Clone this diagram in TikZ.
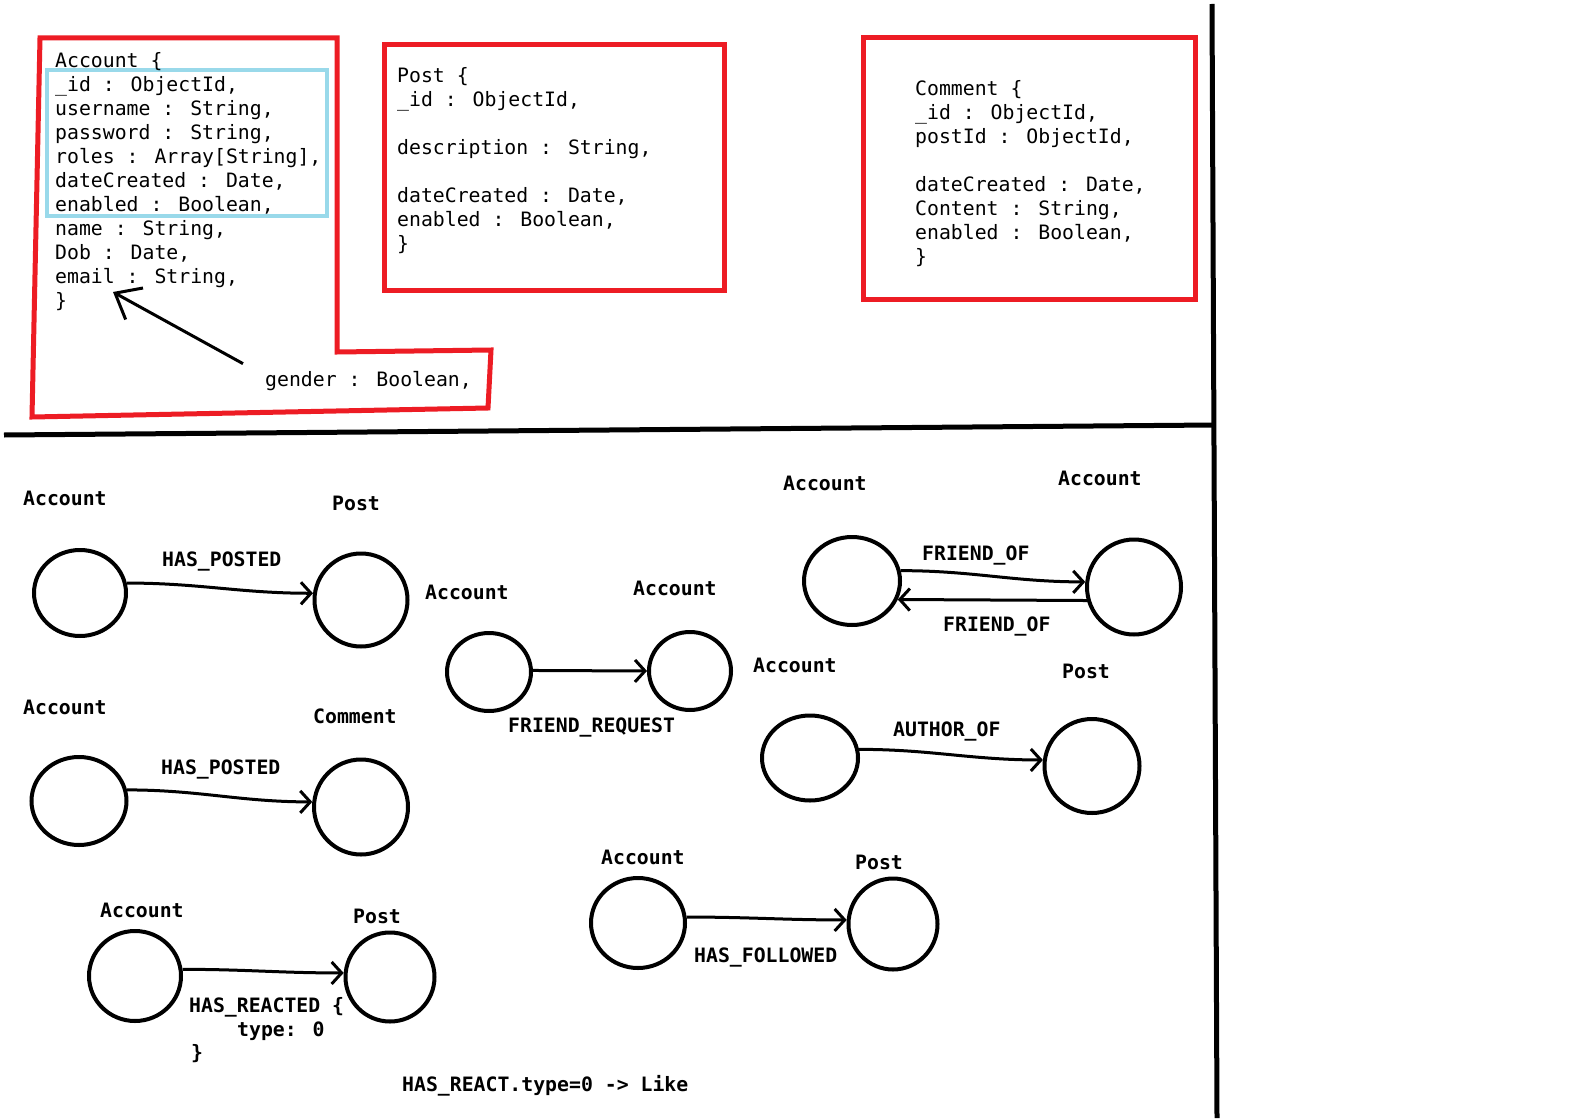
\documentclass[tikz,border=0pt]{standalone}
\usepackage{fontspec}
\usetikzlibrary{shapes.geometric,arrows.meta}
\newfontfamily\codefont{DejaVu Sans Mono}
\definecolor{paintred}{RGB}{237,28,36}
\definecolor{paintblue}{RGB}{153,217,234}

\begin{document}
\begin{tikzpicture}[x=1pt,y=-1pt,
  codetext/.style={font=\codefont\fontsize{19.8}{24}\selectfont, inner sep=0pt, anchor=base west},
  codeblock/.style={codetext, align=left, anchor=north west},
  tagtext/.style={codetext, font=\codefont\bfseries\fontsize{19.8}{24}\selectfont},
  entity/.style={draw, ellipse, line width=4pt, inner sep=0pt},
  rel/.style={line width=3pt, -{Straight Barb[length=10pt,width=22pt]}},
  redline/.style={draw=paintred, line width=5pt}]
\fill[white] (0,0) rectangle (1594,1118);
\useasboundingbox (0,0) rectangle (1594,1118);
% Documents
\draw[redline] (40,38) -- (337,38) -- (337,352) -- (491,350) -- (488,408) -- (32,417) -- cycle;
\draw[draw=paintblue, line width=4pt] (47,70) rectangle (327,216);
\node[codeblock] (accdoc) at (55,52) {Account \{\\
\_id : ObjectId,\\
username : String,\\
password : String,\\
roles : Array[String],\\
dateCreated : Date,\\
enabled : Boolean,\\
name : String,\\
Dob : Date,\\
email : String,\\
\}};
\node[codetext] (gender) at (265,386) {gender : Boolean,};
\coordinate (emailtip) at (113,292);
\draw[line width=3pt, -{Straight Barb[length=22pt,width=36pt]}] ([xshift=-22pt,yshift=7pt]gender.north west) -- (emailtip);

\draw[redline] (384,45) rectangle (724,290);
\node[codeblock] (postdoc) at (397,67) {Post \{\\
\_id : ObjectId,\\[24pt]
description : String,\\[24pt]
dateCreated : Date,\\
enabled : Boolean,\\
\}};

\draw[redline] (863,38) rectangle (1195,299);
\node[codeblock] (commdoc) at (915,80) {Comment \{\\
\_id : ObjectId,\\
postId : ObjectId,\\[24pt]
dateCreated : Date,\\
Content : String,\\
enabled : Boolean,\\
\}};

% Dividers
\draw[line width=5pt] (1212,4) -- (1217,1118);
\draw[line width=5pt] (4,435) -- (1214,425);

% Account HAS_POSTED Post
\node[tagtext] (acclbl1) at (23,505) {Account};
\node[tagtext] (postlbl1) at (332,510) {Post};
\node[entity, minimum width=92pt, minimum height=86pt] (acc1) at (80,593) {};
\node[entity, minimum width=93pt, minimum height=93pt] (post1) at (361,600) {};
\node[tagtext] (hasposted1) at (162,566) {HAS\_POSTED};
\draw[rel] (acc1.12) to[out=0,in=180] (post1.172);

% Account FRIEND_REQUEST Account
\node[tagtext] (acclbl2) at (425,599) {Account};
\node[tagtext] (acclbl3) at (633,595) {Account};
\node[entity, minimum width=84pt, minimum height=78pt] (acc2) at (489,672) {};
\node[entity, minimum width=82pt, minimum height=78pt] (acc3) at (690,671) {};
\node[tagtext] (friendreq) at (508,732) {FRIEND\_REQUEST};
\draw[rel] (acc2.2) -- (acc3.180);

% Account FRIEND_OF Account
\node[tagtext] (acclbl4) at (783,490) {Account};
\node[tagtext] (acclbl5) at (1058,485) {Account};
\node[entity, minimum width=96pt, minimum height=88pt] (acc4) at (852,581) {};
\node[entity, minimum width=94pt, minimum height=95pt] (acc5) at (1134,587) {};
\node[tagtext] (friendof1) at (922,560) {FRIEND\_OF};
\node[tagtext] (friendof2) at (943,631) {FRIEND\_OF};
\draw[rel] (acc4.12) to[out=0,in=180] (acc5.174);
\draw[rel] (acc5.196) -- (acc4.-22);

% Account AUTHOR_OF Post
\node[tagtext] (acclbl6) at (753,672) {Account};
\node[tagtext] (postlbl2) at (1062,678) {Post};
\node[entity, minimum width=96pt, minimum height=85pt] (acc6) at (810,758) {};
\node[entity, minimum width=95pt, minimum height=94pt] (post2) at (1092,766) {};
\node[tagtext] (authorof) at (893,736) {AUTHOR\_OF};
\draw[rel] (acc6.10) to[out=0,in=180] (post2.173);

% Account HAS_POSTED Comment
\node[tagtext] (acclbl7) at (23,714) {Account};
\node[tagtext] (commlbl) at (313,723) {Comment};
\node[entity, minimum width=95pt, minimum height=88pt] (acc7) at (79,801) {};
\node[entity, minimum width=94pt, minimum height=95pt] (comm1) at (361,807) {};
\node[tagtext] (hasposted2) at (161,774) {HAS\_POSTED};
\draw[rel] (acc7.13) to[out=0,in=180] (comm1.174);

% Account HAS_REACTED Post
\node[tagtext] (acclbl8) at (100,917) {Account};
\node[tagtext] (postlbl3) at (353,923) {Post};
\node[entity, minimum width=92pt, minimum height=90pt] (acc8) at (135,976) {};
\node[entity, minimum width=89pt, minimum height=89pt] (post3) at (390,977) {};
\node[tagtext] (hasreacted1) at (189,1012) {HAS\_REACTED \{};
\node[tagtext] (hasreacted2) at (237,1036) {type: 0};
\node[tagtext] (hasreacted3) at (191,1059) {\}};
\draw[rel] (acc8.8) to[out=0,in=180] (post3.175);

% Account HAS_FOLLOWED Post
\node[tagtext] (acclbl9) at (601,864) {Account};
\node[tagtext] (postlbl4) at (855,869) {Post};
\node[entity, minimum width=94pt, minimum height=90pt] (acc9) at (638,923) {};
\node[entity, minimum width=89pt, minimum height=91pt] (post4) at (893,924) {};
\node[tagtext] (hasfollowed) at (694,962) {HAS\_FOLLOWED};
\draw[rel] (acc9.7) to[out=0,in=180] (post4.175);

\node[tagtext] (reactnote) at (402,1091) {HAS\_REACT.type=0 -> Like};
\end{tikzpicture}
\end{document}
